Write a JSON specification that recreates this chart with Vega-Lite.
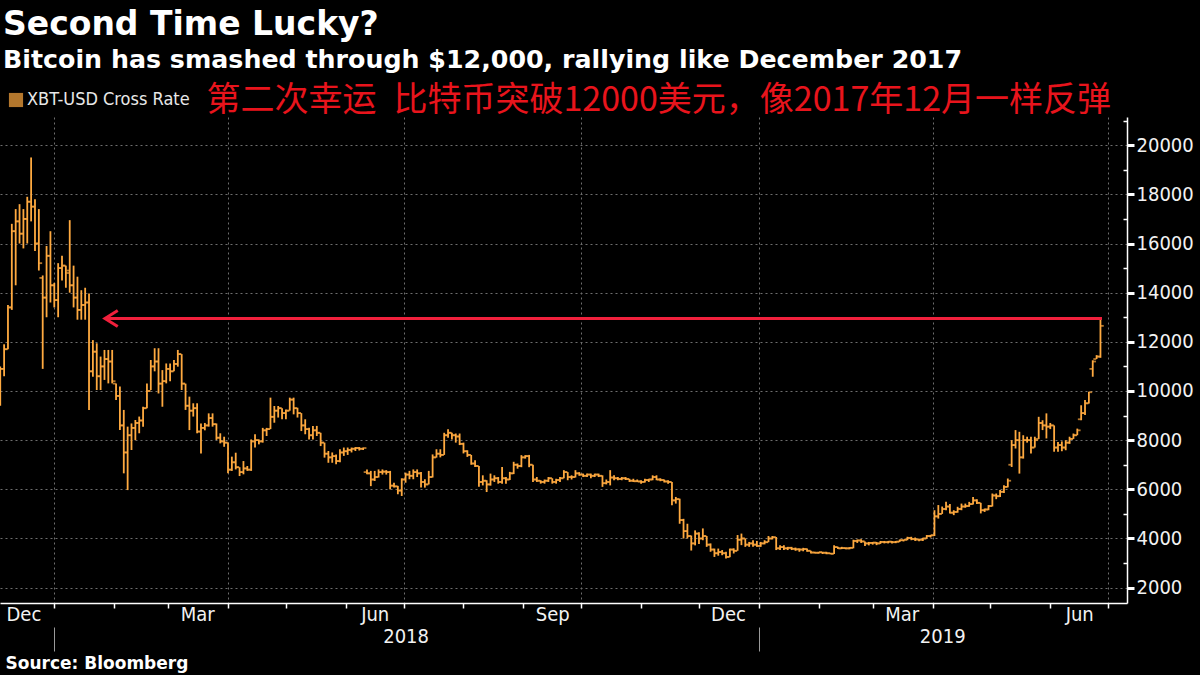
{
"$schema":"https://vega.github.io/schema/vega-lite/v6.json",
"width":1127,"height":486,
"autosize":{"type":"none"},
"padding":{"left":0,"top":117,"right":73,"bottom":72},
"background":"#000000",
"title":{"text":"Second Time Lucky?","subtitle":"Bitcoin has smashed through $12,000, rallying like December 2017","anchor":"start","frame":"group","offset":10,"dx":3,"font":"DejaVu Sans","fontSize":33,"fontWeight":"bold","color":"#ffffff","subtitleFont":"DejaVu Sans","subtitleFontSize":25.3,"subtitleFontWeight":"bold","subtitleColor":"#ffffff","subtitlePadding":6},
"config":{"view":{"stroke":null},"axis":{"labelFont":"DejaVu Sans Condensed, DejaVu Sans, sans-serif"}},
"data":{"values":[
{"d":"2017-12-04","o":9900,"h":11000,"l":9400,"c":10900},
{"d":"2017-12-06","o":10900,"h":11900,"l":10600,"c":11700},
{"d":"2017-12-08","o":11700,"h":13500,"l":11700,"c":13400},
{"d":"2017-12-10","o":13400,"h":16800,"l":13300,"c":16500},
{"d":"2017-12-12","o":16500,"h":17400,"l":14300,"c":16900},
{"d":"2017-12-14","o":16900,"h":17600,"l":16000,"c":16400},
{"d":"2017-12-16","o":16400,"h":17400,"l":15800,"c":17000},
{"d":"2017-12-18","o":17000,"h":17900,"l":16000,"c":17700},
{"d":"2017-12-20","o":17700,"h":19500,"l":16900,"c":17500},
{"d":"2017-12-22","o":17500,"h":17800,"l":15700,"c":16000},
{"d":"2017-12-24","o":16000,"h":17400,"l":14900,"c":15200},
{"d":"2017-12-26","o":14600,"h":14700,"l":10900,"c":13800},
{"d":"2017-12-28","o":13800,"h":15900,"l":13000,"c":15500},
{"d":"2017-12-30","o":15500,"h":16500,"l":13600,"c":14300},
{"d":"2018-01-01","o":14300,"h":14400,"l":13400,"c":13700},
{"d":"2018-01-03","o":13700,"h":15200,"l":13000,"c":15000},
{"d":"2018-01-05","o":15000,"h":15500,"l":14500,"c":15100},
{"d":"2018-01-07","o":15100,"h":15100,"l":14200,"c":14800},
{"d":"2018-01-09","o":14900,"h":16950,"l":14000,"c":14300},
{"d":"2018-01-11","o":14300,"h":15100,"l":13400,"c":13800},
{"d":"2018-01-13","o":13800,"h":14650,"l":12900,"c":13300},
{"d":"2018-01-15","o":13300,"h":14100,"l":12900,"c":13500},
{"d":"2018-01-17","o":13500,"h":14200,"l":12900,"c":13600},
{"d":"2018-01-19","o":13600,"h":13970,"l":9230,"c":10800},
{"d":"2018-01-21","o":10800,"h":12070,"l":10580,"c":11600},
{"d":"2018-01-23","o":11600,"h":11940,"l":10040,"c":10600},
{"d":"2018-01-25","o":10600,"h":11400,"l":10040,"c":11000},
{"d":"2018-01-27","o":11000,"h":11670,"l":10450,"c":11300},
{"d":"2018-01-29","o":11300,"h":11670,"l":10310,"c":11200},
{"d":"2018-01-31","o":11200,"h":11670,"l":10310,"c":10400},
{"d":"2018-02-02","o":10300,"h":10310,"l":9630,"c":9800},
{"d":"2018-02-04","o":9800,"h":10180,"l":8410,"c":8600},
{"d":"2018-02-06","o":8600,"h":9230,"l":6650,"c":7500},
{"d":"2018-02-08","o":7500,"h":8550,"l":5970,"c":8200},
{"d":"2018-02-10","o":8200,"h":8680,"l":7600,"c":8500},
{"d":"2018-02-12","o":8500,"h":8820,"l":8000,"c":8700},
{"d":"2018-02-14","o":8700,"h":8960,"l":8280,"c":8800},
{"d":"2018-02-16","o":8800,"h":9360,"l":8550,"c":9300},
{"d":"2018-02-18","o":9300,"h":10310,"l":9300,"c":10000},
{"d":"2018-02-20","o":10000,"h":11260,"l":10040,"c":11000},
{"d":"2018-02-22","o":11000,"h":11740,"l":10800,"c":11200},
{"d":"2018-02-24","o":11200,"h":11740,"l":9900,"c":10300},
{"d":"2018-02-26","o":10300,"h":10850,"l":9360,"c":10400},
{"d":"2018-02-28","o":10400,"h":11120,"l":10310,"c":10900},
{"d":"2018-03-02","o":10900,"h":11120,"l":10400,"c":10800},
{"d":"2018-03-04","o":10800,"h":11260,"l":10800,"c":11100},
{"d":"2018-03-06","o":11100,"h":11670,"l":10990,"c":11500},
{"d":"2018-03-08","o":11500,"h":11500,"l":10040,"c":10300},
{"d":"2018-03-10","o":10300,"h":10300,"l":9230,"c":9400},
{"d":"2018-03-12","o":9400,"h":9770,"l":8410,"c":9200},
{"d":"2018-03-14","o":9200,"h":9500,"l":8960,"c":9300},
{"d":"2018-03-16","o":9300,"h":9500,"l":8280,"c":8350},
{"d":"2018-03-18","o":8350,"h":8680,"l":7460,"c":8500},
{"d":"2018-03-20","o":8500,"h":8700,"l":8400,"c":8600},
{"d":"2018-03-22","o":8600,"h":9090,"l":8550,"c":8900},
{"d":"2018-03-24","o":8900,"h":9090,"l":8550,"c":8650},
{"d":"2018-03-26","o":8650,"h":8680,"l":8010,"c":8100},
{"d":"2018-03-28","o":8100,"h":8280,"l":7870,"c":7950},
{"d":"2018-03-30","o":7950,"h":8140,"l":7730,"c":7900},
{"d":"2018-04-01","o":7900,"h":7900,"l":6650,"c":6800},
{"d":"2018-04-03","o":6800,"h":7330,"l":6750,"c":7100},
{"d":"2018-04-05","o":7100,"h":7490,"l":6810,"c":6900},
{"d":"2018-04-07","o":6900,"h":6900,"l":6540,"c":6700},
{"d":"2018-04-09","o":6700,"h":7150,"l":6610,"c":6850},
{"d":"2018-04-11","o":6850,"h":6950,"l":6750,"c":6800},
{"d":"2018-04-13","o":6800,"h":8030,"l":6750,"c":7950},
{"d":"2018-04-15","o":7950,"h":8240,"l":7700,"c":8000},
{"d":"2018-04-17","o":8000,"h":8030,"l":7830,"c":7950},
{"d":"2018-04-19","o":7950,"h":8500,"l":7900,"c":8400},
{"d":"2018-04-21","o":8400,"h":8500,"l":8170,"c":8450},
{"d":"2018-04-23","o":8450,"h":9730,"l":8450,"c":8950},
{"d":"2018-04-25","o":8950,"h":9390,"l":8710,"c":9200},
{"d":"2018-04-27","o":9200,"h":9390,"l":8920,"c":9300},
{"d":"2018-04-29","o":9300,"h":9300,"l":8850,"c":9100},
{"d":"2018-05-01","o":9100,"h":9250,"l":8850,"c":9200},
{"d":"2018-05-03","o":9200,"h":9730,"l":9200,"c":9650},
{"d":"2018-05-05","o":9650,"h":9730,"l":9050,"c":9300},
{"d":"2018-05-07","o":9300,"h":9320,"l":8920,"c":9100},
{"d":"2018-05-09","o":9100,"h":9100,"l":8370,"c":8600},
{"d":"2018-05-11","o":8600,"h":8850,"l":8240,"c":8450},
{"d":"2018-05-13","o":8450,"h":8500,"l":8030,"c":8200},
{"d":"2018-05-15","o":8200,"h":8580,"l":8030,"c":8400},
{"d":"2018-05-17","o":8400,"h":8580,"l":8170,"c":8300},
{"d":"2018-05-19","o":8300,"h":8300,"l":7760,"c":7900},
{"d":"2018-05-21","o":7900,"h":7900,"l":7290,"c":7450},
{"d":"2018-05-23","o":7450,"h":7560,"l":7080,"c":7300},
{"d":"2018-05-25","o":7300,"h":7500,"l":7080,"c":7350},
{"d":"2018-05-27","o":7350,"h":7420,"l":7020,"c":7150},
{"d":"2018-05-29","o":7150,"h":7630,"l":7100,"c":7500},
{"d":"2018-05-31","o":7500,"h":7700,"l":7360,"c":7550},
{"d":"2018-06-02","o":7550,"h":7700,"l":7400,"c":7600},
{"d":"2018-06-04","o":7600,"h":7700,"l":7500,"c":7650},
{"d":"2018-06-06","o":7650,"h":7720,"l":7560,"c":7680},
{"d":"2018-06-08","o":7680,"h":7720,"l":7580,"c":7650},
{"d":"2018-06-10","o":7650,"h":7700,"l":7600,"c":7680},
{"d":"2018-06-12","o":6700,"h":6810,"l":6610,"c":6650},
{"d":"2018-06-14","o":6650,"h":6750,"l":6130,"c":6400},
{"d":"2018-06-16","o":6400,"h":6750,"l":6340,"c":6500},
{"d":"2018-06-18","o":6500,"h":6810,"l":6480,"c":6700},
{"d":"2018-06-20","o":6700,"h":6810,"l":6600,"c":6720},
{"d":"2018-06-22","o":6720,"h":6780,"l":6600,"c":6700},
{"d":"2018-06-24","o":6700,"h":6750,"l":6000,"c":6150},
{"d":"2018-06-26","o":6150,"h":6270,"l":6070,"c":6120},
{"d":"2018-06-28","o":6120,"h":6140,"l":5800,"c":5950},
{"d":"2018-06-30","o":5950,"h":6450,"l":5730,"c":6400},
{"d":"2018-07-02","o":6400,"h":6680,"l":6270,"c":6600},
{"d":"2018-07-04","o":6600,"h":6750,"l":6410,"c":6550},
{"d":"2018-07-06","o":6550,"h":6810,"l":6410,"c":6700},
{"d":"2018-07-08","o":6700,"h":6810,"l":6500,"c":6650},
{"d":"2018-07-10","o":6650,"h":6700,"l":6070,"c":6300},
{"d":"2018-07-12","o":6300,"h":6410,"l":6070,"c":6200},
{"d":"2018-07-14","o":6200,"h":6750,"l":6200,"c":6500},
{"d":"2018-07-16","o":6500,"h":7420,"l":6480,"c":7300},
{"d":"2018-07-18","o":7300,"h":7630,"l":7290,"c":7450},
{"d":"2018-07-20","o":7450,"h":7630,"l":7300,"c":7400},
{"d":"2018-07-22","o":7400,"h":8300,"l":7400,"c":8200},
{"d":"2018-07-24","o":8200,"h":8440,"l":8100,"c":8300},
{"d":"2018-07-26","o":8300,"h":8300,"l":8030,"c":8200},
{"d":"2018-07-28","o":8200,"h":8270,"l":7900,"c":8150},
{"d":"2018-07-30","o":8150,"h":8270,"l":7800,"c":7850},
{"d":"2018-08-01","o":7850,"h":7900,"l":7460,"c":7550},
{"d":"2018-08-03","o":7550,"h":7590,"l":7320,"c":7400},
{"d":"2018-08-05","o":7400,"h":7400,"l":7000,"c":7050},
{"d":"2018-08-07","o":7050,"h":7180,"l":6910,"c":6950},
{"d":"2018-08-09","o":6950,"h":6950,"l":6100,"c":6300},
{"d":"2018-08-11","o":6300,"h":6570,"l":6160,"c":6350},
{"d":"2018-08-13","o":6350,"h":6370,"l":5890,"c":6200},
{"d":"2018-08-15","o":6200,"h":6640,"l":6150,"c":6400},
{"d":"2018-08-17","o":6400,"h":6570,"l":6300,"c":6450},
{"d":"2018-08-19","o":6450,"h":6500,"l":6230,"c":6300},
{"d":"2018-08-21","o":6300,"h":6910,"l":6230,"c":6450},
{"d":"2018-08-23","o":6450,"h":6500,"l":6230,"c":6400},
{"d":"2018-08-25","o":6400,"h":6710,"l":6380,"c":6650},
{"d":"2018-08-27","o":6650,"h":7120,"l":6620,"c":7000},
{"d":"2018-08-29","o":7000,"h":7050,"l":6840,"c":6950},
{"d":"2018-08-31","o":6950,"h":7390,"l":6900,"c":7300},
{"d":"2018-09-02","o":7300,"h":7390,"l":7250,"c":7350},
{"d":"2018-09-04","o":7350,"h":7400,"l":6900,"c":7000},
{"d":"2018-09-06","o":7000,"h":7000,"l":6300,"c":6400},
{"d":"2018-09-08","o":6400,"h":6500,"l":6300,"c":6350},
{"d":"2018-09-10","o":6350,"h":6370,"l":6230,"c":6300},
{"d":"2018-09-12","o":6300,"h":6400,"l":6230,"c":6350},
{"d":"2018-09-14","o":6350,"h":6500,"l":6300,"c":6450},
{"d":"2018-09-16","o":6450,"h":6450,"l":6230,"c":6300},
{"d":"2018-09-18","o":6300,"h":6430,"l":6230,"c":6380},
{"d":"2018-09-20","o":6380,"h":6500,"l":6300,"c":6450},
{"d":"2018-09-22","o":6450,"h":6780,"l":6450,"c":6700},
{"d":"2018-09-24","o":6700,"h":6700,"l":6370,"c":6500},
{"d":"2018-09-26","o":6500,"h":6570,"l":6400,"c":6500},
{"d":"2018-09-28","o":6500,"h":6780,"l":6480,"c":6650},
{"d":"2018-09-30","o":6650,"h":6700,"l":6550,"c":6600},
{"d":"2018-10-02","o":6600,"h":6640,"l":6500,"c":6550},
{"d":"2018-10-04","o":6550,"h":6640,"l":6500,"c":6600},
{"d":"2018-10-06","o":6600,"h":6640,"l":6450,"c":6550},
{"d":"2018-10-08","o":6550,"h":6640,"l":6500,"c":6600},
{"d":"2018-10-10","o":6600,"h":6640,"l":6500,"c":6550},
{"d":"2018-10-12","o":6550,"h":6570,"l":6100,"c":6250},
{"d":"2018-10-14","o":6250,"h":6400,"l":6200,"c":6300},
{"d":"2018-10-16","o":6300,"h":6780,"l":6160,"c":6480},
{"d":"2018-10-18","o":6480,"h":6570,"l":6370,"c":6450},
{"d":"2018-10-20","o":6450,"h":6500,"l":6370,"c":6420},
{"d":"2018-10-22","o":6420,"h":6500,"l":6370,"c":6450},
{"d":"2018-10-24","o":6450,"h":6500,"l":6380,"c":6420},
{"d":"2018-10-26","o":6420,"h":6430,"l":6300,"c":6350},
{"d":"2018-10-28","o":6350,"h":6430,"l":6300,"c":6330},
{"d":"2018-10-30","o":6330,"h":6400,"l":6300,"c":6320},
{"d":"2018-11-01","o":6320,"h":6370,"l":6230,"c":6300},
{"d":"2018-11-03","o":6300,"h":6430,"l":6280,"c":6380},
{"d":"2018-11-05","o":6380,"h":6430,"l":6300,"c":6400},
{"d":"2018-11-07","o":6400,"h":6570,"l":6370,"c":6500},
{"d":"2018-11-09","o":6500,"h":6570,"l":6370,"c":6400},
{"d":"2018-11-11","o":6400,"h":6450,"l":6330,"c":6380},
{"d":"2018-11-13","o":6380,"h":6400,"l":6280,"c":6320},
{"d":"2018-11-15","o":6320,"h":6370,"l":6230,"c":6300},
{"d":"2018-11-17","o":6300,"h":6300,"l":5350,"c":5550},
{"d":"2018-11-19","o":5550,"h":5690,"l":5420,"c":5600},
{"d":"2018-11-21","o":5600,"h":5620,"l":4600,"c":4750},
{"d":"2018-11-23","o":4750,"h":4800,"l":4000,"c":4300},
{"d":"2018-11-25","o":4300,"h":4600,"l":4000,"c":4100},
{"d":"2018-11-27","o":4100,"h":4120,"l":3510,"c":3800},
{"d":"2018-11-29","o":3800,"h":4330,"l":3720,"c":4200},
{"d":"2018-12-01","o":4200,"h":4250,"l":3780,"c":4000},
{"d":"2018-12-03","o":4000,"h":4410,"l":3930,"c":4100},
{"d":"2018-12-05","o":4100,"h":4100,"l":3660,"c":3750},
{"d":"2018-12-07","o":3750,"h":3800,"l":3460,"c":3550},
{"d":"2018-12-09","o":3550,"h":3590,"l":3250,"c":3400},
{"d":"2018-12-11","o":3400,"h":3590,"l":3300,"c":3450},
{"d":"2018-12-13","o":3450,"h":3530,"l":3320,"c":3400},
{"d":"2018-12-15","o":3400,"h":3460,"l":3190,"c":3250},
{"d":"2018-12-17","o":3250,"h":3590,"l":3240,"c":3550},
{"d":"2018-12-19","o":3550,"h":3600,"l":3390,"c":3500},
{"d":"2018-12-21","o":3500,"h":4140,"l":3500,"c":3950},
{"d":"2018-12-23","o":3950,"h":4200,"l":3730,"c":4000},
{"d":"2018-12-25","o":4000,"h":4000,"l":3660,"c":3750},
{"d":"2018-12-27","o":3750,"h":3860,"l":3660,"c":3800},
{"d":"2018-12-29","o":3800,"h":3930,"l":3660,"c":3750},
{"d":"2018-12-31","o":3750,"h":3900,"l":3660,"c":3700},
{"d":"2019-01-02","o":3700,"h":3860,"l":3660,"c":3800},
{"d":"2019-01-04","o":3800,"h":3930,"l":3760,"c":3850},
{"d":"2019-01-06","o":3850,"h":4100,"l":3850,"c":4000},
{"d":"2019-01-08","o":4000,"h":4100,"l":3960,"c":4050},
{"d":"2019-01-10","o":4050,"h":4060,"l":3530,"c":3600},
{"d":"2019-01-12","o":3600,"h":3730,"l":3530,"c":3650},
{"d":"2019-01-14","o":3650,"h":3730,"l":3530,"c":3600},
{"d":"2019-01-16","o":3600,"h":3660,"l":3530,"c":3620},
{"d":"2019-01-18","o":3620,"h":3660,"l":3530,"c":3580},
{"d":"2019-01-20","o":3580,"h":3630,"l":3500,"c":3560},
{"d":"2019-01-22","o":3560,"h":3600,"l":3460,"c":3550},
{"d":"2019-01-24","o":3550,"h":3620,"l":3480,"c":3570},
{"d":"2019-01-26","o":3570,"h":3590,"l":3460,"c":3500},
{"d":"2019-01-28","o":3500,"h":3500,"l":3390,"c":3430},
{"d":"2019-01-30","o":3430,"h":3460,"l":3390,"c":3420},
{"d":"2019-02-01","o":3420,"h":3460,"l":3380,"c":3440},
{"d":"2019-02-03","o":3440,"h":3460,"l":3370,"c":3420},
{"d":"2019-02-05","o":3420,"h":3460,"l":3360,"c":3400},
{"d":"2019-02-07","o":3400,"h":3420,"l":3360,"c":3380},
{"d":"2019-02-09","o":3380,"h":3730,"l":3370,"c":3650},
{"d":"2019-02-11","o":3650,"h":3660,"l":3570,"c":3600},
{"d":"2019-02-13","o":3600,"h":3660,"l":3570,"c":3610},
{"d":"2019-02-15","o":3610,"h":3640,"l":3560,"c":3600},
{"d":"2019-02-17","o":3600,"h":3650,"l":3560,"c":3620},
{"d":"2019-02-19","o":3620,"h":3950,"l":3600,"c":3900},
{"d":"2019-02-21","o":3900,"h":3960,"l":3820,"c":3920},
{"d":"2019-02-23","o":3920,"h":3970,"l":3820,"c":3880},
{"d":"2019-02-25","o":3880,"h":3880,"l":3690,"c":3800},
{"d":"2019-02-27","o":3800,"h":3860,"l":3720,"c":3820},
{"d":"2019-03-01","o":3820,"h":3860,"l":3750,"c":3830},
{"d":"2019-03-03","o":3830,"h":3860,"l":3730,"c":3800},
{"d":"2019-03-05","o":3800,"h":3900,"l":3780,"c":3860},
{"d":"2019-03-07","o":3860,"h":3900,"l":3800,"c":3850},
{"d":"2019-03-09","o":3850,"h":3900,"l":3800,"c":3870},
{"d":"2019-03-11","o":3870,"h":3900,"l":3800,"c":3850},
{"d":"2019-03-13","o":3850,"h":3900,"l":3810,"c":3870},
{"d":"2019-03-15","o":3870,"h":3960,"l":3860,"c":3930},
{"d":"2019-03-17","o":3930,"h":3960,"l":3880,"c":3950},
{"d":"2019-03-19","o":3950,"h":4070,"l":3930,"c":4020},
{"d":"2019-03-21","o":4020,"h":4070,"l":3930,"c":3980},
{"d":"2019-03-23","o":3980,"h":4040,"l":3900,"c":3960},
{"d":"2019-03-25","o":3960,"h":3990,"l":3890,"c":3950},
{"d":"2019-03-27","o":3950,"h":4030,"l":3900,"c":4000},
{"d":"2019-03-29","o":4000,"h":4140,"l":3990,"c":4100},
{"d":"2019-03-31","o":4100,"h":4150,"l":4040,"c":4130},
{"d":"2019-04-02","o":4130,"h":5150,"l":4100,"c":4900},
{"d":"2019-04-04","o":4900,"h":5360,"l":4810,"c":5000},
{"d":"2019-04-06","o":5000,"h":5300,"l":5000,"c":5200},
{"d":"2019-04-08","o":5200,"h":5490,"l":5150,"c":5300},
{"d":"2019-04-10","o":5300,"h":5400,"l":5020,"c":5050},
{"d":"2019-04-12","o":5050,"h":5150,"l":4950,"c":5080},
{"d":"2019-04-14","o":5080,"h":5290,"l":5050,"c":5200},
{"d":"2019-04-16","o":5200,"h":5420,"l":5150,"c":5300},
{"d":"2019-04-18","o":5300,"h":5420,"l":5250,"c":5320},
{"d":"2019-04-20","o":5320,"h":5490,"l":5290,"c":5400},
{"d":"2019-04-22","o":5400,"h":5690,"l":5380,"c":5550},
{"d":"2019-04-24","o":5550,"h":5600,"l":5400,"c":5450},
{"d":"2019-04-26","o":5450,"h":5450,"l":5020,"c":5150},
{"d":"2019-04-28","o":5150,"h":5220,"l":5080,"c":5180},
{"d":"2019-04-30","o":5180,"h":5360,"l":5150,"c":5320},
{"d":"2019-05-02","o":5320,"h":5830,"l":5300,"c":5750},
{"d":"2019-05-04","o":5750,"h":5830,"l":5600,"c":5720},
{"d":"2019-05-06","o":5720,"h":5970,"l":5690,"c":5900},
{"d":"2019-05-08","o":5900,"h":6170,"l":5850,"c":6100},
{"d":"2019-05-10","o":6100,"h":6440,"l":6080,"c":6350},
{"d":"2019-05-12","o":7000,"h":8000,"l":6910,"c":7800},
{"d":"2019-05-14","o":7800,"h":8410,"l":7660,"c":8000},
{"d":"2019-05-16","o":8000,"h":8340,"l":6640,"c":7300},
{"d":"2019-05-18","o":7300,"h":8200,"l":7250,"c":8000},
{"d":"2019-05-20","o":8000,"h":8140,"l":7900,"c":8000},
{"d":"2019-05-22","o":8000,"h":8140,"l":7460,"c":7700},
{"d":"2019-05-24","o":7700,"h":8140,"l":7700,"c":8000},
{"d":"2019-05-26","o":8050,"h":8950,"l":8050,"c":8700},
{"d":"2019-05-28","o":8700,"h":8810,"l":8410,"c":8600},
{"d":"2019-05-30","o":8600,"h":9090,"l":8070,"c":8550},
{"d":"2019-06-01","o":8550,"h":8700,"l":8450,"c":8600},
{"d":"2019-06-03","o":8600,"h":8600,"l":7530,"c":7700},
{"d":"2019-06-05","o":7700,"h":7930,"l":7530,"c":7800},
{"d":"2019-06-07","o":7800,"h":7950,"l":7550,"c":7700},
{"d":"2019-06-09","o":7700,"h":8000,"l":7590,"c":7900},
{"d":"2019-06-11","o":7900,"h":8140,"l":7850,"c":8050},
{"d":"2019-06-13","o":8050,"h":8270,"l":8050,"c":8200},
{"d":"2019-06-15","o":8200,"h":8470,"l":8200,"c":8400},
{"d":"2019-06-17","o":8850,"h":9420,"l":8810,"c":9100},
{"d":"2019-06-19","o":9100,"h":9630,"l":9020,"c":9500},
{"d":"2019-06-21","o":9500,"h":9970,"l":9490,"c":9950},
{"d":"2019-06-23","o":10900,"h":11250,"l":10580,"c":11200},
{"d":"2019-06-25","o":11300,"h":11460,"l":11300,"c":11400},
{"d":"2019-06-27","o":11400,"h":12900,"l":11350,"c":12650}
]},
"resolve":{"axis":{"x":"independent","y":"independent"}},
"layer":[
{"mark":{"type":"rule","color":"#FFAA40","strokeWidth":1.8},
 "encoding":{
  "x":{"field":"d","type":"temporal","scale":{"domain":[{"year":2017,"month":12,"date":3,"hours":21,"utc":true},{"year":2019,"month":7,"date":10,"hours":18,"utc":true}]},
   "axis":{"orient":"bottom","values":[{"year":2018,"month":1,"date":1,"utc":true},{"year":2018,"month":2,"date":1,"utc":true},{"year":2018,"month":3,"date":1,"utc":true},{"year":2018,"month":4,"date":1,"utc":true},{"year":2018,"month":5,"date":1,"utc":true},{"year":2018,"month":6,"date":1,"utc":true},{"year":2018,"month":7,"date":1,"utc":true},{"year":2018,"month":8,"date":1,"utc":true},{"year":2018,"month":9,"date":1,"utc":true},{"year":2018,"month":10,"date":1,"utc":true},{"year":2018,"month":11,"date":1,"utc":true},{"year":2018,"month":12,"date":1,"utc":true},{"year":2019,"month":1,"date":1,"utc":true},{"year":2019,"month":2,"date":1,"utc":true},{"year":2019,"month":3,"date":1,"utc":true},{"year":2019,"month":4,"date":1,"utc":true},{"year":2019,"month":5,"date":1,"utc":true},{"year":2019,"month":6,"date":1,"utc":true},{"year":2019,"month":7,"date":1,"utc":true}],
    "labels":false,"grid":false,"ticks":true,"tickSize":5,"tickColor":"#ffffff","tickWidth":1.5,"domain":true,"domainColor":"#ffffff","domainWidth":1.5,"title":null}},
  "y":{"field":"l","type":"quantitative","scale":{"domain":[1376,21146],"nice":false,"zero":false},
   "axis":{"orient":"right","values":[2000,4000,6000,8000,10000,12000,14000,16000,18000,20000],"grid":true,"gridColor":"#6e6e6e","gridDash":[2,3],"gridWidth":1,"ticks":true,"tickSize":7,"tickWidth":3,"tickColor":"#ffffff","domain":true,"domainColor":"#ffffff","domainWidth":1.5,"labelFontSize":20,"labelColor":"#f2f2f2","labelPadding":2,"format":"d","labelFlush":false,"labelOverlap":false,
    "title":"第二次幸运\u2002比特币突破12000美元，像2017年12月一样反弹","titleFont":"Noto Sans CJK SC","titleFontSize":34,"titleFontWeight":"normal","titleColor":"#E8141C","titleAngle":0,"titleAlign":"left","titleBaseline":"alphabetic","titleX":-921,"titleY":-7}},
  "y2":{"field":"h"}
 }},
{"mark":{"type":"tick","orient":"horizontal","size":3,"thickness":1.8,"xOffset":-1.8},
 "encoding":{
  "x":{"field":"d","type":"temporal","scale":{"domain":[{"year":2017,"month":12,"date":3,"hours":21,"utc":true},{"year":2019,"month":7,"date":10,"hours":18,"utc":true}]},
   "axis":{"orient":"bottom","values":[{"year":2018,"month":1,"date":1,"utc":true},{"year":2018,"month":4,"date":1,"utc":true},{"year":2018,"month":7,"date":1,"utc":true},{"year":2018,"month":10,"date":1,"utc":true},{"year":2019,"month":1,"date":1,"utc":true},{"year":2019,"month":4,"date":1,"utc":true},{"year":2019,"month":7,"date":1,"utc":true}],
    "grid":true,"gridColor":"#6e6e6e","gridDash":[2,3],"gridWidth":1,"ticks":false,"labels":false,"domain":false,"title":null}},
  "y":{"field":"o","type":"quantitative","scale":{"domain":[1376,21146],"nice":false,"zero":false},
   "axis":{"orient":"right","values":[3000,5000,7000,9000,11000,13000,15000,17000,19000,21000],"ticks":true,"tickSize":-4,"tickWidth":1.5,"tickColor":"#ffffff","labels":false,"domain":false,"grid":false,"title":null}},
  "color":{"datum":"XBT-USD Cross Rate","type":"nominal","scale":{"range":["#FFAA40"]},
   "legend":{"orient":"none","legendX":7,"legendY":-26,"title":null,"symbolType":"square","symbolSize":200,"symbolFillColor":"#FFAA40","symbolStrokeWidth":0,"labelFont":"DejaVu Sans Condensed, DejaVu Sans, sans-serif","labelFontSize":18,"labelColor":"#e8e8e8","labelOffset":2,"labelLimit":400,"padding":0}}
 }},
{"mark":{"type":"tick","orient":"horizontal","size":3,"thickness":1.8,"xOffset":1.8},
 "encoding":{
  "x":{"field":"d","type":"temporal","scale":{"domain":[{"year":2017,"month":12,"date":3,"hours":21,"utc":true},{"year":2019,"month":7,"date":10,"hours":18,"utc":true}]},
   "axis":{"orient":"bottom","values":[{"year":2017,"month":12,"date":16,"utc":true},{"year":2018,"month":3,"date":16,"utc":true},{"year":2018,"month":6,"date":16,"utc":true},{"year":2018,"month":9,"date":16,"utc":true},{"year":2018,"month":12,"date":16,"utc":true},{"year":2019,"month":3,"date":16,"utc":true},{"year":2019,"month":6,"date":16,"utc":true}],
    "labelExpr":"utcFormat(datum.value, '%b')","ticks":false,"domain":false,"grid":false,"labelFontSize":20,"labelColor":"#f2f2f2","labelPadding":1,"labelFlush":false,"labelOverlap":false,"title":null}},
  "y":{"field":"c","type":"quantitative","scale":{"domain":[1376,21146],"nice":false,"zero":false},"axis":null},
  "color":{"datum":"XBT-USD Cross Rate","type":"nominal"}
 }},
{"data":{"values":[{"start":"2018-01-27T06:00:00Z","end":"2019-06-27T19:00:00Z","level":12950}]},
 "mark":{"type":"rule","color":"#F0203C","strokeWidth":3},
 "encoding":{
  "x":{"field":"start","type":"temporal","scale":{"domain":[{"year":2017,"month":12,"date":3,"hours":21,"utc":true},{"year":2019,"month":7,"date":10,"hours":18,"utc":true}]},
   "axis":{"orient":"bottom","values":[{"year":2018,"month":7,"date":2,"utc":true},{"year":2019,"month":4,"date":6,"utc":true}],"labelExpr":"utcFormat(datum.value, '%Y')","ticks":false,"domain":false,"grid":false,"labelFontSize":20,"labelColor":"#f2f2f2","labelPadding":23,"labelFlush":false,"labelOverlap":false,"title":null}},
  "x2":{"field":"end"},
  "y":{"field":"level","type":"quantitative","scale":{"domain":[1376,21146],"nice":false,"zero":false},"axis":null}
 }},
{"data":{"values":[{"start":"2018-01-27T06:00:00Z","end":"2019-06-27T19:00:00Z","level":12950}]},
 "mark":{"type":"point","shape":"M1.6,-1L0,0L1.6,1","size":256,"filled":false,"color":"#F0203C","strokeWidth":3,"opacity":1,"strokeJoin":"miter"},
 "encoding":{
  "x":{"field":"start","type":"temporal","scale":{"domain":[{"year":2017,"month":12,"date":3,"hours":21,"utc":true},{"year":2019,"month":7,"date":10,"hours":18,"utc":true}]},
   "axis":{"orient":"bottom","values":[{"year":2018,"month":1,"date":1,"utc":true},{"year":2019,"month":1,"date":1,"utc":true}],"ticks":true,"tickSize":24,"tickColor":"#9a9a9a","tickWidth":1,"labels":false,"domain":false,"grid":false,"offset":24,
    "title":"Source: Bloomberg","titleFont":"DejaVu Sans","titleFontWeight":"bold","titleFontSize":17,"titleColor":"#ffffff","titleX":5,"titleY":41,"titleAlign":"left","titleBaseline":"alphabetic","titleAnchor":"start"}},
  "y":{"field":"level","type":"quantitative","scale":{"domain":[1376,21146],"nice":false,"zero":false},"axis":null}
 }}
]
}
